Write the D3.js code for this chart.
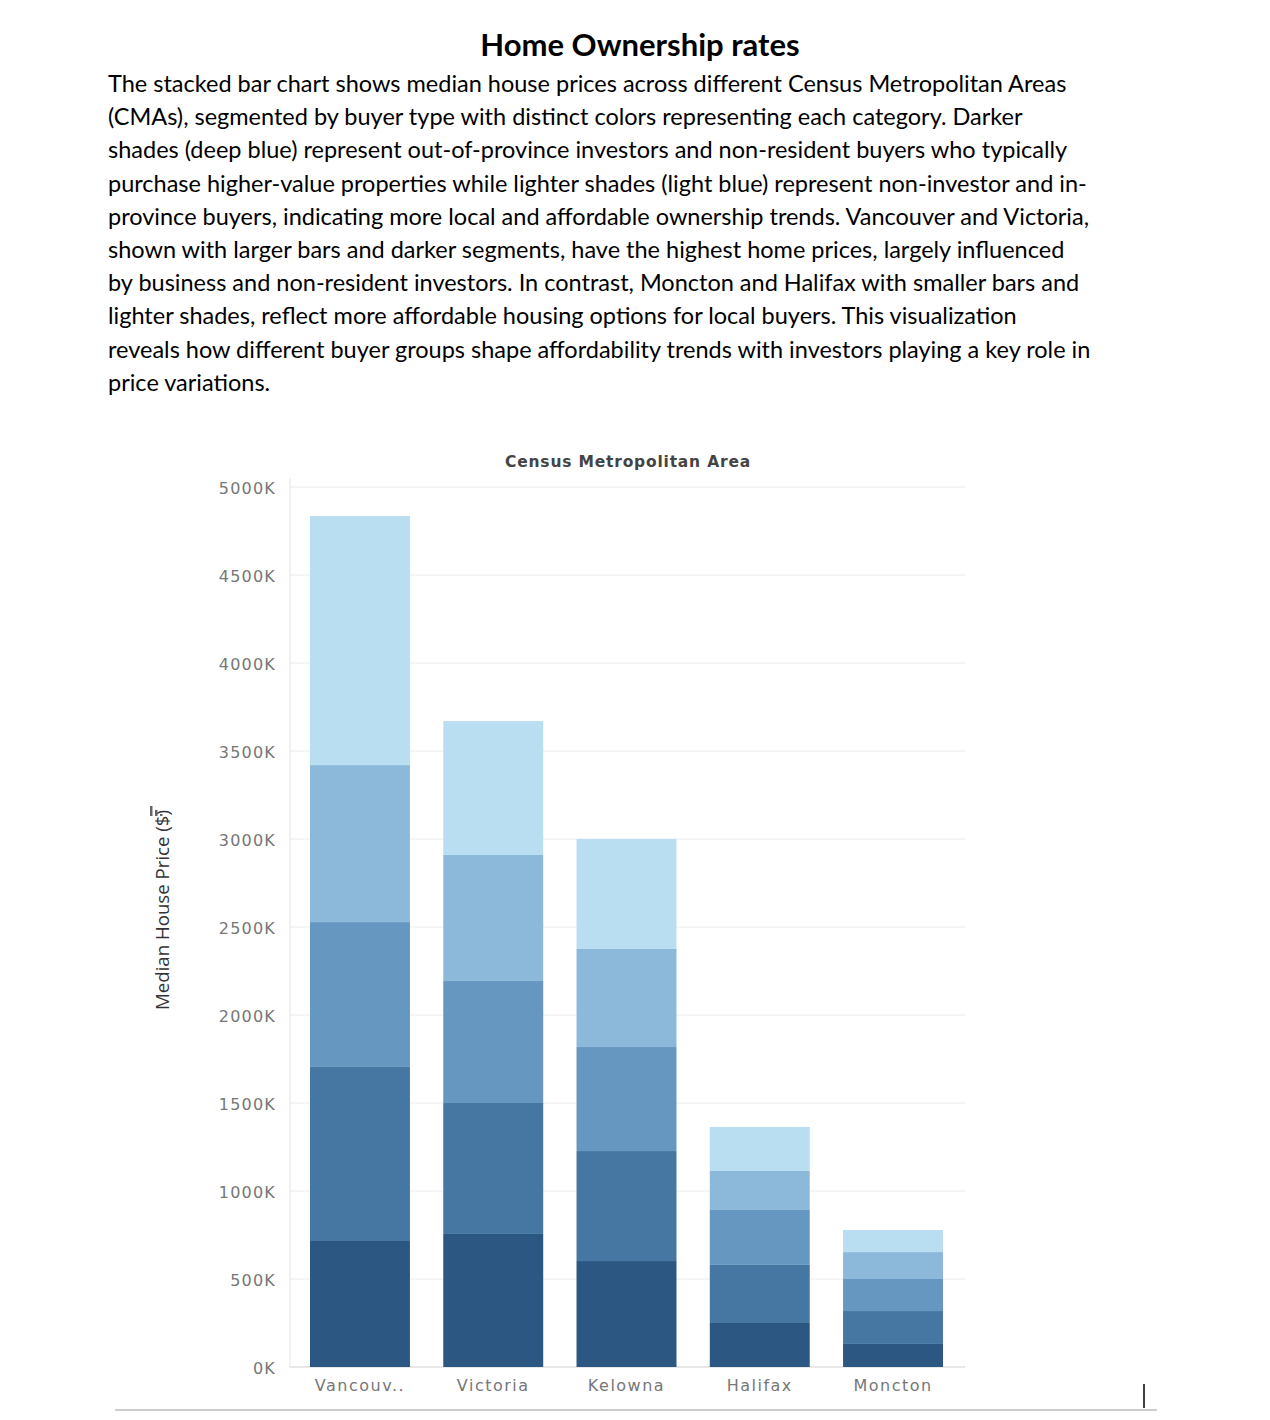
<!DOCTYPE html>
<html><head><meta charset="utf-8">
<script src="https://cdn.jsdelivr.net/npm/d3@7"></script>
<style>body{margin:0;background:#fff}svg{display:block}</style>
</head><body>
<svg id="c" width="1270" height="1420"></svg>
<script>
const categories = ["Vancouv..","Victoria","Kelowna","Halifax","Moncton"];
const segmentNames = ["s1","s2","s3","s4","s5"];
const s1 = [716,756,602,250,131];
const s2 = [989,744,625,330,187];
const s3 = [823,693,591,312,182];
const s4 = [892,716,557,222,153];
const s5 = [1415,761,625,250,125];
const colors = ["#2c5783","#4676a2","#6697c1","#8cb9da","#b9def1"];
const yTicks = [0,500,1000,1500,2000,2500,3000,3500,4000,4500,5000];
const paragraph = [
"The stacked bar chart shows median house prices across different Census Metropolitan Areas",
"(CMAs), segmented by buyer type with distinct colors representing each category. Darker",
"shades (deep blue) represent out-of-province investors and non-resident buyers who typically",
"purchase higher-value properties while lighter shades (light blue) represent non-investor and in-",
"province buyers, indicating more local and affordable ownership trends. Vancouver and Victoria,",
"shown with larger bars and darker segments, have the highest home prices, largely influenced",
"by business and non-resident investors. In contrast, Moncton and Halifax with smaller bars and",
"lighter shades, reflect more affordable housing options for local buyers. This visualization",
"reveals how different buyer groups shape affordability trends with investors playing a key role in",
"price variations."];

const svg = d3.select("#c");
svg.append("text").attr("x",640).attr("y",56).attr("text-anchor","middle")
  .attr("font-family","Lato, 'Open Sans', sans-serif").attr("font-weight","bold").attr("font-size",31).text("Home Ownership rates");
const para = svg.append("text").attr("font-family","Lato, 'Open Sans', sans-serif").attr("font-size",23.5).attr("fill","#000");
paragraph.forEach((l,i)=>para.append("tspan").attr("x",108).attr("y",92+i*33.2).attr("textLength", i<9 ? null : null).text(l));

const x = d3.scaleBand().domain(categories).range([290,963]).paddingInner(0.25).paddingOuter(0.15);
const y = d3.scaleLinear().domain([0,5000]).range([1367,487]);
const gf = "DejaVu Sans, sans-serif";

svg.append("g").selectAll("line").data(yTicks.slice(1)).join("line")
  .attr("x1",290).attr("x2",965).attr("y1",d=>y(d)).attr("y2",d=>y(d)).attr("stroke","#ececec");
svg.append("line").attr("x1",290).attr("x2",290).attr("y1",478).attr("y2",1367).attr("stroke","#e4e4e4");
svg.append("line").attr("x1",290).attr("x2",965).attr("y1",1367).attr("y2",1367).attr("stroke","#cfcfcf");

const data = categories.map((c,i)=>({cat:c,s1:s1[i],s2:s2[i],s3:s3[i],s4:s4[i],s5:s5[i]}));
const stack = d3.stack().keys(segmentNames)(data);
svg.append("g").selectAll("g").data(stack).join("g").attr("fill",(d,i)=>colors[i])
  .selectAll("rect").data(d=>d).join("rect")
  .attr("x",d=>x(d.data.cat)).attr("width",x.bandwidth())
  .attr("y",d=>y(d[1])).attr("height",d=>y(d[0])-y(d[1]));

svg.append("g").selectAll("text").data(yTicks).join("text")
  .attr("x",276).attr("y",d=>y(d)+7).attr("text-anchor","end")
  .attr("font-family",gf).attr("font-size",16).attr("letter-spacing",1.2).attr("fill","#777")
  .text(d=>d+"K");
svg.append("g").selectAll("text").data(categories).join("text")
  .attr("x",d=>x(d)+x.bandwidth()/2).attr("y",1391).attr("text-anchor","middle")
  .attr("font-family",gf).attr("font-size",16).attr("letter-spacing",1.5).attr("fill","#777").text(d=>d);
svg.append("text").attr("x",628).attr("y",467).attr("text-anchor","middle")
  .attr("font-family",gf).attr("font-size",15.5).attr("font-weight","bold").attr("letter-spacing",0.8).attr("fill","#444")
  .text("Census Metropolitan Area");
svg.append("text").attr("transform","translate(169,910) rotate(-90)").attr("text-anchor","middle")
  .attr("font-family","'Liberation Sans Narrow', 'Open Sans', sans-serif").attr("font-size",19).attr("fill","#333")
  .attr("textLength",200).attr("lengthAdjust","spacingAndGlyphs").text("Median House Price ($)");
// small sort icon
[[150,806,10],[155,810,6],[160,814,2]].forEach(r=>svg.append("rect").attr("x",r[0]).attr("y",r[1]).attr("width",2.5).attr("height",r[2]).attr("fill","#666"));
svg.append("line").attr("x1",115).attr("x2",1157).attr("y1",1410).attr("y2",1410).attr("stroke","#999");
svg.append("line").attr("x1",1144).attr("x2",1144).attr("y1",1384).attr("y2",1408).attr("stroke","#000").attr("stroke-width",1.5);
</script>
</body></html>
